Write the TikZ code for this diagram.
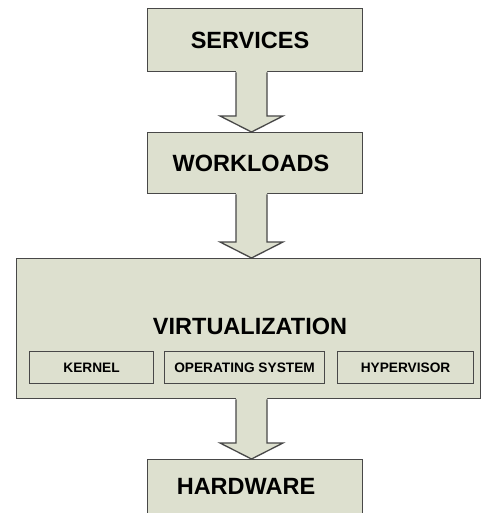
\documentclass[tikz,border=0pt]{standalone}
\usepackage{fontspec}
\setmainfont{Liberation Sans}
\usetikzlibrary{calc}
\definecolor{boxfill}{RGB}{221,224,207}
\definecolor{boxline}{RGB}{72,72,72}
\tikzset{
  bigbox/.style={draw=boxline,fill=boxfill,line width=1.3pt,anchor=north west,inner sep=0pt},
  smallbox/.style={draw=boxline,fill=boxfill,line width=1.1pt,anchor=north west,inner sep=0pt,font=\fontsize{13.7}{14}\selectfont\bfseries},
  bigtext/.style={font=\fontsize{23.5}{24}\selectfont\bfseries,inner sep=0pt},
  arrowfill/.style={fill=boxfill},
  arrowline/.style={draw=boxline,line width=1.3pt,line join=miter}
}
\newcommand\flowarrow[2]{%
  \path let \p1=(#1.south), \p2=(#2.north) in
    [arrowfill] (236pt,\y1+1.5pt) -- (236pt,\y2+16pt) -- (220pt,\y2+16pt) -- (251.5pt,\y2) -- (283pt,\y2+16pt) -- (267pt,\y2+16pt) -- (267pt,\y1+1.5pt) -- cycle;
  \path let \p1=(#1.south), \p2=(#2.north) in
    [arrowline] (236pt,\y1) -- (236pt,\y2+16pt) -- (220pt,\y2+16pt) -- (251.5pt,\y2) -- (283pt,\y2+16pt) -- (267pt,\y2+16pt) -- (267pt,\y1);
}
\begin{document}
\begin{tikzpicture}[x=1pt,y=-1pt]
\useasboundingbox (0,0) rectangle (482,513);
\clip (0,0) rectangle (482,513);
\fill[white] (0,0) rectangle (482,513);
\node[bigbox,minimum width=215pt,minimum height=63pt] (services) at (147,8) {};
\node[bigtext] (servicestext) at (250,40) {SERVICES};
\node[bigbox,minimum width=215pt,minimum height=61pt] (workloads) at (147,132) {};
\node[bigtext] (workloadstext) at (251,163) {WORKLOADS};
\node[bigbox,minimum width=464pt,minimum height=140pt] (virt) at (16,258) {};
\node[bigtext] (virttext) at (250,326) {VIRTUALIZATION};
\node[smallbox,minimum width=124pt,minimum height=32pt] (kernel) at (29,351) {KERNEL};
\node[smallbox,minimum width=160pt,minimum height=32pt] (os) at (164,351) {OPERATING SYSTEM};
\node[smallbox,minimum width=136pt,minimum height=32pt] (hyper) at (337,351) {HYPERVISOR};
\node[bigbox,minimum width=215pt,minimum height=80pt] (hardware) at (147,459) {};
\node[bigtext] (hardwaretext) at (246,486) {HARDWARE};
\flowarrow{services}{workloads}
\flowarrow{workloads}{virt}
\flowarrow{virt}{hardware}
\end{tikzpicture}
\end{document}
